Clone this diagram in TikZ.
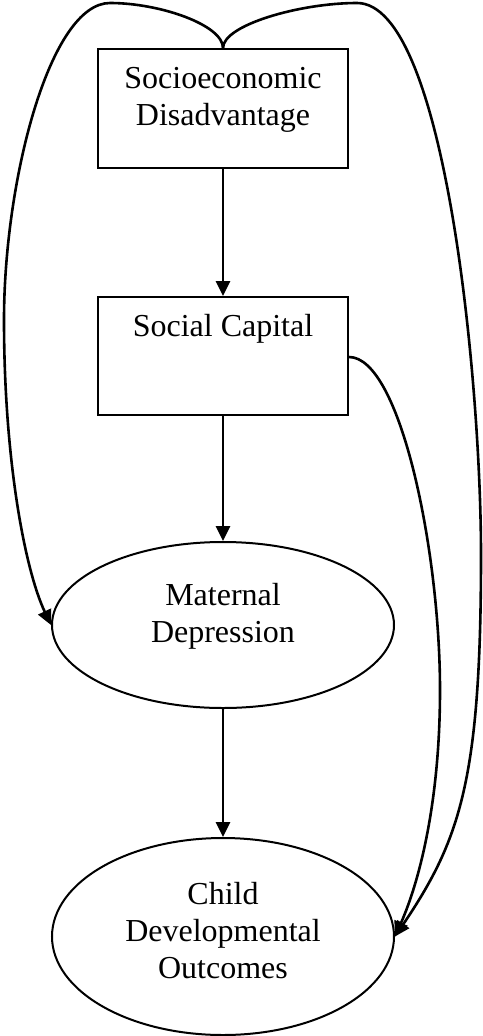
\documentclass[tikz,border=0pt]{standalone}
\usepackage{fontspec}
\setmainfont{Liberation Serif}
\usetikzlibrary{shapes.geometric,arrows.meta}
\begin{document}
\begin{tikzpicture}[x=1bp,y=-1bp,
  boxnode/.style={draw,line width=2bp,rectangle,minimum width=250bp,inner sep=0pt},
  ellnode/.style={draw,line width=2bp,ellipse,minimum width=342bp,inner sep=0pt},
  txt/.style={align=center,inner sep=0pt,font=\fontsize{32bp}{37bp}\selectfont},
  conn/.style={line width=2.6bp,-{Triangle[length=15bp,width=14bp]}},
]
\useasboundingbox (0,0) rectangle (483,1036);
\node[boxnode,minimum height=119bp] (sd) at (223,108.5) {};
\node[txt] (sdt) at (223,100) {Socioeconomic\\Disadvantage};
\node[boxnode,minimum height=118bp] (sc) at (223,356) {};
\node[txt] (sct) at (223,329) {Social Capital};
\node[ellnode,minimum height=166bp] (md) at (223,625) {};
\node[txt] (mdt) at (223,616) {Maternal\\Depression};
\node[ellnode,minimum height=197bp] (cd) at (223,936.5) {};
\node[txt] (cdt) at (223,931) {Child\\Developmental\\Outcomes};

\draw[conn] (sd.south) -- (sc.north);
\draw[conn] (sc.south) -- (md.north);
\draw[conn] (md.south) -- (cd.north);

\draw[conn] (sd.north) .. controls (223,25) and (160,3) .. (110,3)
  .. controls (50,3) and (4,180) .. (4,320)
  .. controls (4,460) and (25,570) .. (md.west);
\draw[conn] (sd.north) .. controls (223,25) and (300,3) .. (357,3)
  .. controls (445,3) and (481,380) .. (481,555)
  .. controls (481,780) and (460,840) .. (cd.east);
\draw[conn] (sc.east |- 0,357) .. controls (400,357) and (440,550) .. (440,690)
  .. controls (440,800) and (420,880) .. (cd.east);
\end{tikzpicture}
\end{document}
